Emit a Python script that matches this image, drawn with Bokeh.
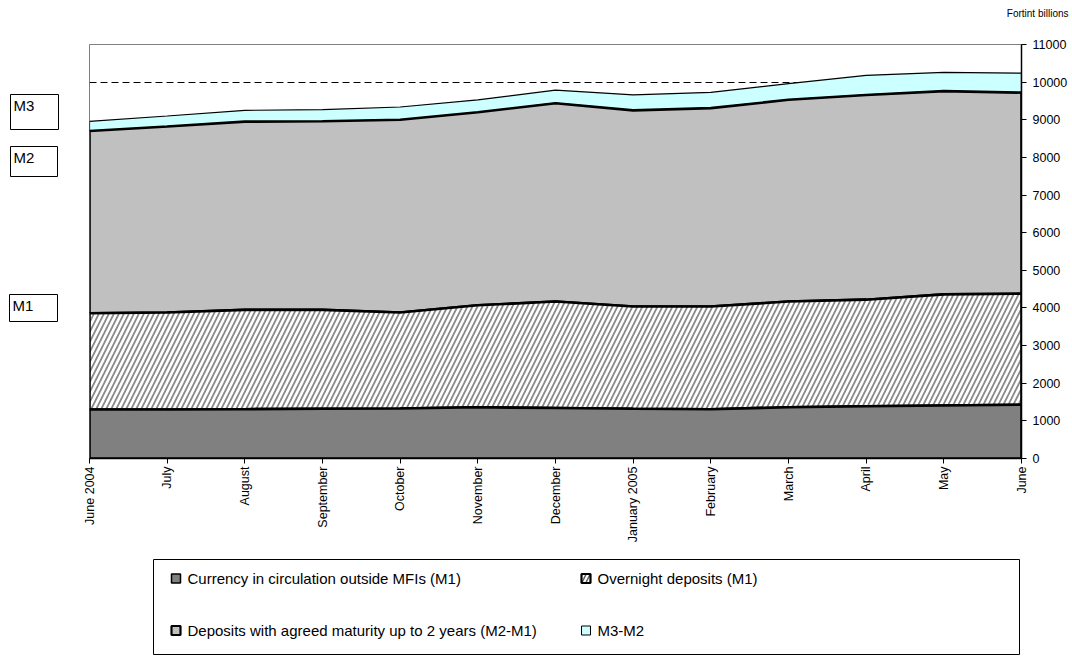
import math
import numpy as np
from bokeh.plotting import figure
from bokeh.layouts import column, row
from bokeh.models import Range1d, FixedTicker
from bokeh.core.properties import value
from bokeh.embed import file_html
from bokeh.resources import INLINE

# Monthly monetary aggregates, HUF billions
months = ["June 2004", "July", "August", "September", "October", "November",
          "December", "January 2005", "February", "March", "April", "May", "June"]
currency = [1300, 1300, 1310, 1320, 1330, 1360, 1340, 1320, 1310, 1360, 1390, 1410, 1430]
overnight = [2560, 2580, 2640, 2630, 2550, 2710, 2830, 2720, 2730, 2810, 2830, 2950, 2950]
agreed_maturity = [4840, 4940, 5000, 5010, 5120, 5130, 5270, 5210, 5270, 5360, 5440, 5400, 5340]
m3_minus_m2 = [260, 280, 300, 310, 340, 330, 350, 410, 420, 430, 520, 500, 520]
y_ticks = list(range(0, 11001, 1000))

series_names = ["Currency in circulation outside MFIs (M1)", "Overnight deposits (M1)",
                "Deposits with agreed maturity up to 2 years (M2-M1)", "M3-M2"]
aggregate_tags = ["M3", "M2", "M1"]

FONT = "Liberation Sans"
W, H = 1072, 657
HEADER_H, LEGEND_H, TAGS_W = 26, 109, 79
MID_H = H - HEADER_H - LEGEND_H
FRAME_TOP, FRAME_BOTTOM = 44, 458          # page y of the chart frame
MID_TOP = HEADER_H                         # page y where the middle row starts


def blank(width, height, y_top, y_bottom, **borders):
    """Figure drawn in page pixel coordinates (y grows downwards)."""
    f = figure(width=width, height=height, output_backend="svg", toolbar_location=None,
               x_range=Range1d(0, width), y_range=Range1d(y_bottom, y_top),
               x_axis_location=None, y_axis_location=None,
               min_border=0, min_border_left=0, min_border_right=0,
               min_border_top=borders.get("top", 0),
               min_border_bottom=borders.get("bottom", 0))
    f.outline_line_color = None
    f.xgrid.visible = False
    f.ygrid.visible = False
    f.background_fill_color = "white"
    f.border_fill_color = "white"
    return f


def put_text(f, xs, ys, texts, size, align="left", baseline="middle"):
    f.text(x=xs, y=ys, text=texts, text_font=value(FONT), text_font_size=value(size),
           text_align=align, text_baseline=baseline, text_color="black")


# --- header with the unit
header = blank(W, HEADER_H, 0, HEADER_H)
put_text(header, [1068], [13], ["Fortint billions"], "10px", align="right")

# --- main chart
x = np.arange(len(months))
lvl0 = np.zeros(len(months))
lvl1 = lvl0 + np.array(currency)
lvl2 = lvl1 + np.array(overnight)
lvl3 = lvl2 + np.array(agreed_maturity)
lvl4 = lvl3 + np.array(m3_minus_m2)

p = figure(width=W - TAGS_W, height=MID_H, output_backend="svg", toolbar_location=None,
           x_range=Range1d(0, len(months) - 1), y_range=Range1d(0, 11000),
           y_axis_location="right",
           min_border_left=10, min_border_right=51,
           min_border_top=FRAME_TOP - MID_TOP,
           min_border_bottom=MID_TOP + MID_H - FRAME_BOTTOM)
p.background_fill_color = "white"
p.border_fill_color = "white"
p.outline_line_color = "#808080"
p.outline_line_width = 1


def band(lower, upper):
    return np.concatenate([x, x[::-1]]), np.concatenate([upper, lower[::-1]])


# stacked bands, top one first so the heavier outlines stay on top
xs, ys = band(lvl3, lvl4)
p.patch(xs, ys, fill_color="#ccffff", line_color="black", line_width=1.2)
xs, ys = band(lvl2, lvl3)
p.patch(xs, ys, fill_color="#c0c0c0", line_color="black", line_width=2.6)
xs, ys = band(lvl1, lvl2)
p.patch(xs, ys, fill_color="white", hatch_pattern="/", hatch_color="#8a8a8a",
        hatch_scale=10, hatch_weight=1.8, line_color="black", line_width=2.6)
xs, ys = band(lvl0, lvl1)
p.patch(xs, ys, fill_color="#808080", line_color="black", line_width=2.6)

p.xaxis.ticker = FixedTicker(ticks=list(x))
p.xaxis.major_label_overrides = {int(i): m for i, m in zip(x, months)}
p.xaxis.major_label_orientation = math.pi / 2
p.yaxis.ticker = FixedTicker(ticks=y_ticks)
for ax, standoff in ((p.xaxis, 3), (p.yaxis, 6)):
    ax.major_tick_in = 0
    ax.major_tick_out = 5
    ax.minor_tick_line_color = None
    ax.axis_line_color = "black"
    ax.axis_line_width = 1.5
    ax.major_tick_line_color = "black"
    ax.major_label_text_font = FONT
    ax.major_label_text_font_size = "12.5px"
    ax.major_label_text_color = "black"
    ax.major_label_standoff = standoff

p.xgrid.visible = False
p.ygrid.ticker = FixedTicker(ticks=[10000])
p.ygrid.grid_line_color = "black"
p.ygrid.grid_line_dash = "7 4"
p.ygrid.grid_line_width = 1

# --- aggregate tags left of the chart (frame aligned with the chart's frame)
tags = blank(TAGS_W, MID_H, FRAME_TOP, FRAME_BOTTOM,
             top=FRAME_TOP - MID_TOP, bottom=MID_TOP + MID_H - FRAME_BOTTOM)
tag_boxes = {"M3": (10, 58, 94, 129), "M2": (10, 57, 146, 176), "M1": (9, 57, 294, 321)}
tl = [tag_boxes[t][0] for t in aggregate_tags]
tr = [tag_boxes[t][1] for t in aggregate_tags]
tt = [tag_boxes[t][2] for t in aggregate_tags]
tb = [tag_boxes[t][3] for t in aggregate_tags]
tags.quad(left=tl, right=tr, top=tt, bottom=tb, fill_color="white",
          line_color="black", line_width=1)
put_text(tags, [v + 3 for v in tl], [v + 2 for v in tt], aggregate_tags, "15px",
         baseline="top")

# --- legend
top0 = HEADER_H + MID_H
leg = blank(W, LEGEND_H, top0, H)
leg.quad(left=[153], right=[1019], top=[559], bottom=[654],
         fill_color="white", line_color="black", line_width=1)
mx = [171, 581, 171, 581]
my = [578, 578, 630, 630]
marker_styles = [
    dict(fill_color="#808080", line_width=1.5),
    dict(fill_color="white", line_width=2.2, hatch_pattern="/", hatch_color="#606060",
         hatch_scale=8, hatch_weight=1.5),
    dict(fill_color="#c0c0c0", line_width=2.2),
    dict(fill_color="#ccffff", line_width=1),
]
for cx, cy, st in zip(mx, my, marker_styles):
    leg.quad(left=[cx], right=[cx + 9], top=[cy - 4.5], bottom=[cy + 4.5],
             line_color="black", **st)
put_text(leg, [v + 16 for v in mx], my, series_names, "15px")

layout = column(header, row(tags, p), leg)
open("out.html", "w").write(file_html(layout, INLINE))
